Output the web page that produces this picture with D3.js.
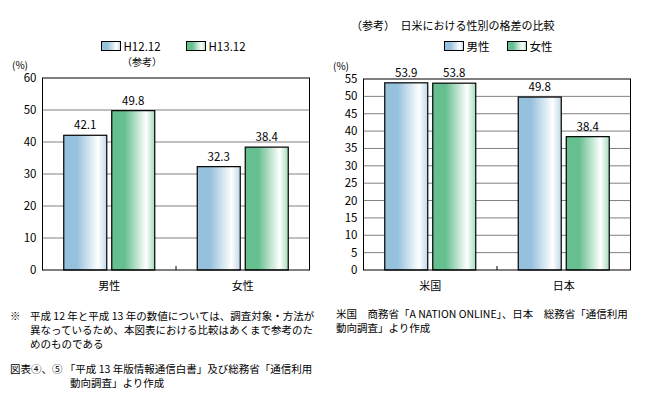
<!DOCTYPE html>
<html>
<head>
<meta charset="utf-8">
<script src="https://cdn.jsdelivr.net/npm/d3@7"></script>
<style>
  body { margin: 0; background: #fff; }
  svg text { font-family: "Noto Sans CJK JP", sans-serif; fill: #000; }
</style>
</head>
<body>
<svg id="chart" width="650" height="397"></svg>
<script>
// left chart data
const leftCats = ['男性', '女性'];
const leftSeries = ['H12.12', 'H13.12'];
const leftH12 = [42.1, 32.3];
const leftH13 = [49.8, 38.4];
const leftTicks = [0, 10, 20, 30, 40, 50, 60];

// right chart data
const rightCats = ['米国', '日本'];
const rightSeries = ['男性', '女性'];
const rightMale = [53.9, 49.8];
const rightFemale = [53.8, 38.4];
const rightTicks = [0, 5, 10, 15, 20, 25, 30, 35, 40, 45, 50, 55];

const svg = d3.select('#chart');
const defs = svg.append('defs');

const makeGrad = (id, base, edge) => {
  const g = defs.append('linearGradient').attr('id', id)
    .attr('x1', '0%').attr('x2', '100%').attr('y1', '0%').attr('y2', '0%');
  g.append('stop').attr('offset', '0%').attr('stop-color', base);
  g.append('stop').attr('offset', '30%').attr('stop-color', base);
  g.append('stop').attr('offset', '80%').attr('stop-color', '#ffffff');
  g.append('stop').attr('offset', '100%').attr('stop-color', edge);
};
makeGrad('gBlue', '#96c1dc', '#c0d8ea');
makeGrad('gGreen', '#66bf8f', '#a6dcbc');
const fills = ['url(#gBlue)', 'url(#gGreen)'];

const drawChart = options => {
  const g = svg.append('g');
  const x = d3.scaleBand()
              .domain(options.cats)
              .range([options.x0, options.x1]);
  const y = d3.scaleLinear()
              .domain([0, options.ymax])
              .range([options.y0, options.y1]);

  // grid
  g.selectAll('.grid').data(options.ticks.slice(1, -1)).join('line')
   .attr('x1', options.x0).attr('x2', options.x1)
   .attr('y1', d => y(d)).attr('y2', d => y(d))
   .attr('stroke', '#808080').attr('stroke-width', 1);

  // y tick labels
  g.selectAll('.ylab').data(options.ticks).join('text')
   .attr('x', options.x0 - 6).attr('y', d => y(d) + 4)
   .attr('text-anchor', 'end').attr('font-size', 11.5)
   .text(d => d);

  // bars
  const bw = 43, gap = 5;
  options.values.forEach((vals, si) => {
    g.selectAll('.bar' + si).data(vals).join('rect')
     .attr('x', (d, i) => x(options.cats[i]) + x.bandwidth() / 2 - bw - gap / 2 + si * (bw + gap))
     .attr('y', d => y(d))
     .attr('width', bw)
     .attr('height', d => y(0) - y(d))
     .attr('fill', fills[si])
     .attr('stroke', '#000').attr('stroke-width', 1.2);
    g.selectAll('.val' + si).data(vals).join('text')
     .attr('x', (d, i) => x(options.cats[i]) + x.bandwidth() / 2 - bw / 2 - gap / 2 + si * (bw + gap))
     .attr('y', d => y(d) - 6)
     .attr('text-anchor', 'middle').attr('font-size', 11.5)
     .text(d => d.toFixed(1));
  });

  // frame
  g.append('rect')
   .attr('x', options.x0).attr('y', options.y1)
   .attr('width', options.x1 - options.x0).attr('height', options.y0 - options.y1)
   .attr('fill', 'none').attr('stroke', '#000').attr('stroke-width', 1);

  // middle tick
  const mid = (options.x0 + options.x1) / 2;
  g.append('line').attr('x1', mid).attr('x2', mid)
   .attr('y1', options.y0).attr('y2', options.y0 - 4)
   .attr('stroke', '#000');

  // category labels
  g.selectAll('.cat').data(options.cats).join('text')
   .attr('x', d => x(d) + x.bandwidth() / 2)
   .attr('y', options.y0 + 20)
   .attr('text-anchor', 'middle').attr('font-size', 11)
   .text(d => d);

  // unit
  g.append('text').attr('x', options.unitX).attr('y', options.y1 - 9)
   .attr('font-size', 10).text('(%)');

  // legend
  options.series.forEach((s, i) => {
    const lx = options.legendX[i];
    g.append('rect').attr('x', lx).attr('y', options.legendY)
     .attr('width', 19).attr('height', 9)
     .attr('fill', fills[i]).attr('stroke', '#000').attr('stroke-width', 1);
    g.append('text').attr('x', lx + 22).attr('y', options.legendY + 9.5)
     .attr('font-size', 11.5).text(s);
  });
};

drawChart({
  cats: leftCats, series: leftSeries, values: [leftH12, leftH13],
  ticks: leftTicks, ymax: 60,
  x0: 42.5, x1: 309.5, y0: 270, y1: 78,
  unitX: 12, legendX: [101.5, 186.5], legendY: 41.5
});

drawChart({
  cats: rightCats, series: rightSeries, values: [rightMale, rightFemale],
  ticks: rightTicks, ymax: 55,
  x0: 363.5, x1: 630.5, y0: 270, y1: 79,
  unitX: 333, legendX: [444.5, 507.5], legendY: 41.5
});

// extra texts
svg.append('text').attr('x', 142).attr('y', 66).attr('text-anchor', 'middle')
   .attr('font-size', 10).text('（参考）');
svg.append('text').attr('x', 351).attr('y', 30)
   .attr('font-size', 11).text('（参考）　日米における性別の格差の比較');

const leftNotes = [
  {x: 10, y: 320, t: '※'},
  {x: 30, y: 320, t: '平成 12 年と平成 13 年の数値については、調査対象・方法が'},
  {x: 30, y: 334, t: '異なっているため、本図表における比較はあくまで参考のた'},
  {x: 30, y: 348, t: 'めのものである'},
  {x: 10, y: 372.5, t: '図表④、⑤ 「平成 13 年版情報通信白書」及び総務省「通信利用'},
  {x: 70, y: 386.5, t: '動向調査」より作成'}
];
const rightNotes = [
  {x: 336, y: 318, t: '米国　商務省「A NATION ONLINE」、日本　総務省「通信利用'},
  {x: 336, y: 332, t: '動向調査」より作成'}
];
svg.selectAll('.note').data(leftNotes.concat(rightNotes)).join('text')
   .attr('x', d => d.x).attr('y', d => d.y)
   .attr('font-size', 10.5).text(d => d.t);
</script>
</body>
</html>
